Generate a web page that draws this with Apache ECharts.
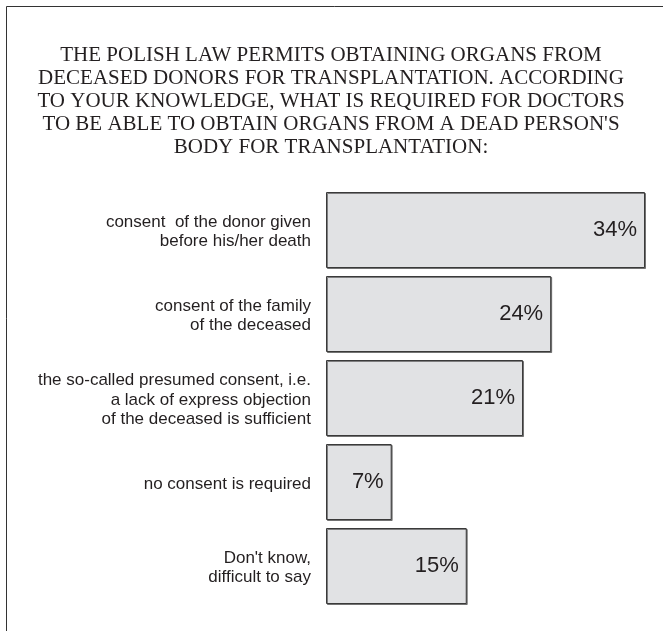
<!DOCTYPE html>
<html>
<head>
<meta charset="utf-8">
<script src="https://cdn.jsdelivr.net/npm/echarts@6/dist/echarts.min.js"></script>
<style>
html,body{margin:0;padding:0;background:#fff;}
#chart{width:663px;height:631px;}
</style>
</head>
<body>
<div id="chart"></div>
<script>
var titleText = "THE POLISH LAW PERMITS OBTAINING ORGANS FROM\nDECEASED DONORS FOR TRANSPLANTATION. ACCORDING\nTO YOUR KNOWLEDGE, WHAT IS REQUIRED FOR DOCTORS\nTO BE ABLE TO OBTAIN ORGANS FROM A DEAD PERSON'S\nBODY FOR TRANSPLANTATION:";
var categories = [
  "consent  of the donor given\nbefore his/her death",
  "consent of the family\nof the deceased",
  "the so-called presumed consent, i.e.\na lack of express objection\nof the deceased is sufficient",
  "no consent is required",
  "Don't know,\ndifficult to say"
];
var values = [34, 24, 21, 7, 15];

var chart = echarts.init(document.getElementById('chart'), null, {renderer: 'canvas'});
chart.setOption({
  animation: false,
  backgroundColor: '#ffffff',
  title: {
    text: titleText,
    left: 331,
    top: 44,
    textAlign: 'center',
    padding: 0,
    textStyle: {
      fontFamily: '"Liberation Serif", "Times New Roman", serif',
      fontSize: 21,
      fontWeight: 'normal',
      lineHeight: 23,
      color: '#231f20'
    }
  },
  graphic: [{
    type: 'polyline',
    shape: {points: [[6.5, 631], [6.5, 6.5], [663, 6.5]]},
    style: {stroke: '#333333', lineWidth: 1, fill: null}
  }],
  grid: {left: 326, top: 188, width: 319, height: 420},
  xAxis: {
    type: 'value', min: 0, max: 34, show: false
  },
  yAxis: {
    type: 'category',
    data: categories,
    inverse: true,
    axisLine: {show: false},
    axisTick: {show: false},
    splitLine: {show: false},
    axisLabel: {
      margin: 15,
      align: 'right',
      formatter: function (v) {
        return '{sp| }\n' + v.split('\n').map(function (l) { return '{t|' + l + '}'; }).join('\n');
      },
      rich: {
        sp: {fontSize: 1, lineHeight: 4},
        t: {
          fontFamily: '"Liberation Sans", Arial, sans-serif',
          fontSize: 17,
          lineHeight: 19.5,
          color: '#231f20',
          align: 'right'
        }
      }
    }
  },
  series: [{
    type: 'bar',
    data: values,
    barWidth: 76,
    itemStyle: {
      color: '#e1e2e4',
      borderColor: '#3a3a3a',
      borderWidth: 1,
      shadowColor: 'rgba(60,60,60,0.6)',
      shadowOffsetX: 1,
      shadowOffsetY: 1,
      shadowBlur: 0
    },
    label: {
      show: true,
      position: 'insideRight',
      distance: 8,
      formatter: '{c}%',
      fontFamily: '"Liberation Sans", Arial, sans-serif',
      fontSize: 22,
      color: '#231f20'
    }
  }]
});
</script>
</body>
</html>
